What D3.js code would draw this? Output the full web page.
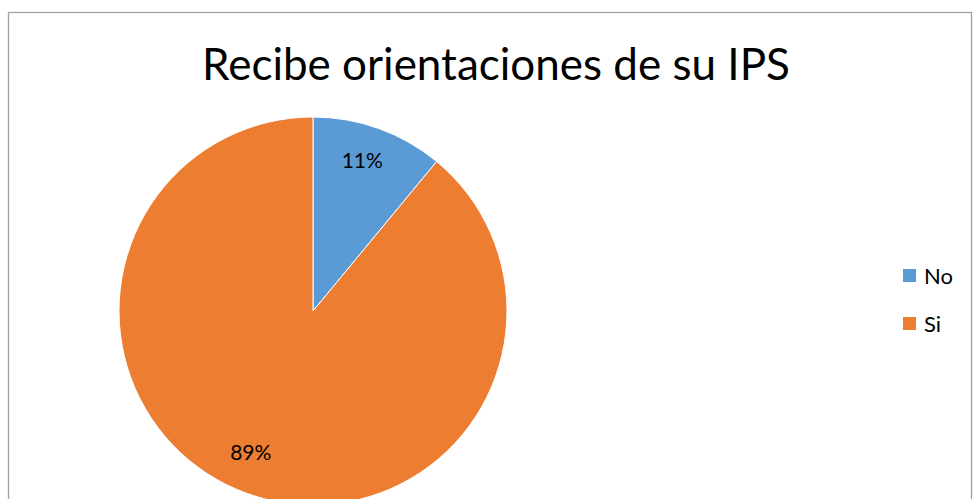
<!DOCTYPE html>
<html>
<head>
<meta charset="utf-8">
<script src="https://cdn.jsdelivr.net/npm/d3@7"></script>
<style>
  body { margin: 0; background: #fff; }
  text { font-family: Lato, "Open Sans", sans-serif; fill: #000; }
</style>
</head>
<body>
<script>
const categories = ['No', 'Si'];
const values = [11, 89];
const labels = ['11%', '89%'];
const colors = ['#5B9BD5', '#ED7D31'];
const title = 'Recibe orientaciones de su IPS';

const W = 973, H = 499;
const cx = 313, cy = 311, R = 194;

const svg = d3.select('body').append('svg')
    .attr('width', W)
    .attr('height', H);

// chart frame
svg.append('rect')
    .attr('x', 8.5)
    .attr('y', 12.5)
    .attr('width', 963)
    .attr('height', 500)
    .attr('fill', 'none')
    .attr('stroke', '#a0a0a0')
    .attr('stroke-width', 1.3);

svg.append('text')
    .attr('x', 496)
    .attr('y', 80)
    .attr('text-anchor', 'middle')
    .style('font-size', '44px')
    .text(title);

const pie = d3.pie().sort(null).value(d => d);
const arc = d3.arc().innerRadius(0).outerRadius(R);
const labelArc = d3.arc().innerRadius(R * 0.81).outerRadius(R * 0.81);

const g = svg.append('g')
    .attr('transform', `translate(${cx},${cy})`);

const arcs = pie(values);

g.selectAll('path').data(arcs)
    .enter().append('path')
    .attr('d', arc)
    .attr('fill', (d, i) => colors[i])
    .attr('stroke', '#fff')
    .attr('stroke-width', 1);

g.selectAll('text').data(arcs)
    .enter().append('text')
    .attr('x', (d, i) => labelArc.centroid(d)[0] + (i ? -9 : -4))
    .attr('y', (d, i) => labelArc.centroid(d)[1] + (i ? -6 : -3))
    .attr('text-anchor', 'middle')
    .attr('dy', '0.35em')
    .style('font-size', '21px')
    .text((d, i) => labels[i]);

const legend = svg.append('g')
    .attr('transform', 'translate(903,269)');

const item = legend.selectAll('g').data(categories)
    .enter().append('g')
    .attr('transform', (d, i) => `translate(0,${i * 48})`);

item.append('rect')
    .attr('width', 13)
    .attr('height', 13)
    .attr('fill', (d, i) => colors[i]);

item.append('text')
    .attr('x', 21)
    .attr('y', 7)
    .attr('dy', '0.35em')
    .style('font-size', '22px')
    .text(d => d);
</script>
</body>
</html>
